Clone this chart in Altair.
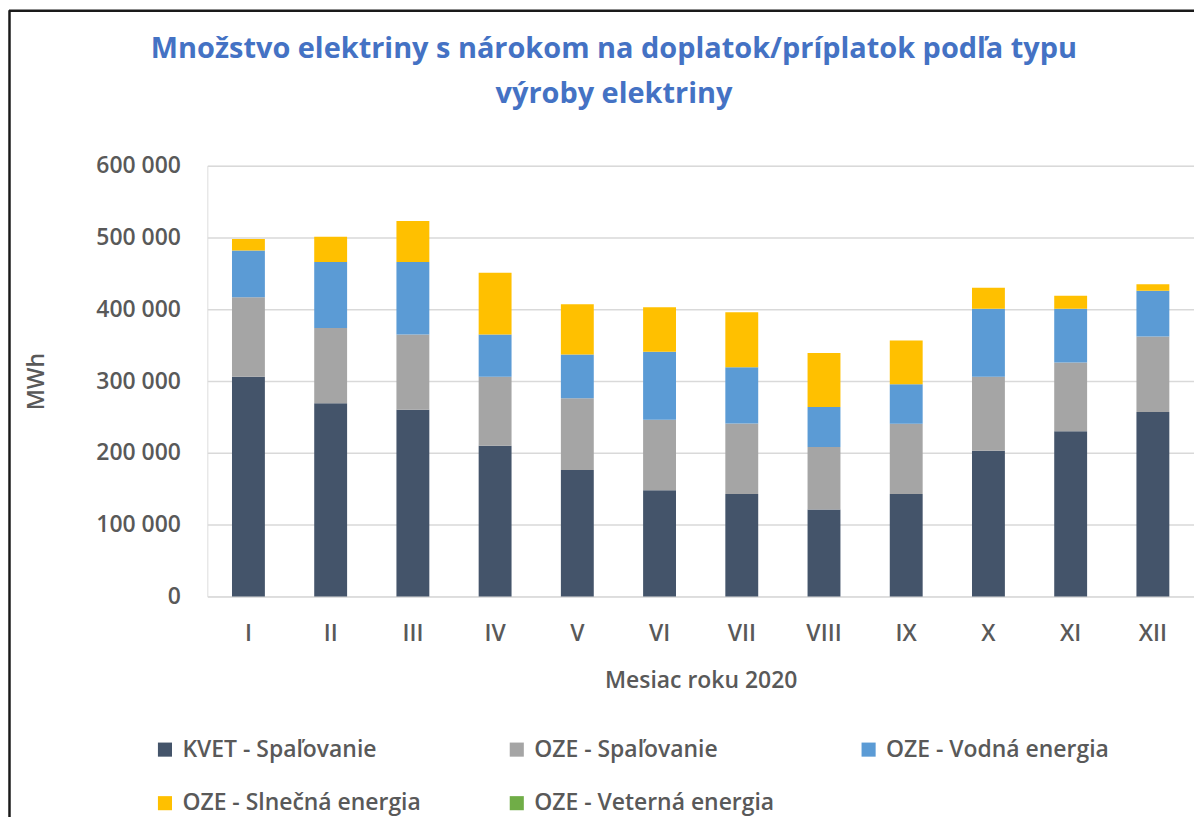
import altair as alt
import pandas as pd

months = ["I", "II", "III", "IV", "V", "VI", "VII", "VIII", "IX", "X", "XI", "XII"]
series = ["KVET - Spaľovanie", "OZE - Spaľovanie", "OZE - Vodná energia",
          "OZE - Slnečná energia", "OZE - Veterná energia"]
colors = ["#44546A", "#A5A5A5", "#5B9BD5", "#FFC000", "#70AD47"]

kvet_spal = [306000, 269000, 260000, 210000, 176000, 148000, 142500, 121000, 142500, 203000, 230000, 257000]
oze_spal = [111000, 105000, 105000, 96000, 100000, 98000, 98300, 87000, 98000, 103000, 96000, 105000]
oze_voda = [65000, 92000, 101000, 59000, 61000, 95000, 78500, 56000, 55000, 95000, 75000, 64000]
oze_slnko = [16000, 35000, 57000, 86000, 70000, 62000, 76500, 75000, 61000, 29000, 18000, 9000]
oze_vietor = [0, 0, 0, 0, 0, 0, 0, 0, 0, 0, 0, 0]

y_ticks = [0, 100000, 200000, 300000, 400000, 500000, 600000]

rows = []
for si, (name, vals) in enumerate(zip(series, [kvet_spal, oze_spal, oze_voda, oze_slnko, oze_vietor])):
    for m, v in zip(months, vals):
        rows.append({"mesiac": m, "typ": name, "poradie": si, "MWh": v})
df = pd.DataFrame(rows)

FONT = "Open Sans"
WEIGHT = 600
GRAY = "#595959"
FS = 23
W, H = 990, 432
PAD_L, PAD_T, PAD_B = 200, 157, 220

bars = alt.Chart(df).mark_bar().encode(
    x=alt.X("mesiac:N", sort=months,
            scale=alt.Scale(paddingInner=0.6, paddingOuter=0.3),
            axis=alt.Axis(title="Mesiac roku 2020", labelAngle=0, domain=False, ticks=False,
                          labelPadding=26, labelFontSize=FS, labelColor=GRAY, labelFont=FONT,
                          labelFontWeight=WEIGHT,
                          titleFontSize=FS, titleColor=GRAY, titleFont=FONT, titleFontWeight=WEIGHT,
                          titlePadding=24)),
    y=alt.Y("MWh:Q", stack="zero",
            scale=alt.Scale(domain=[0, 600000], nice=False),
            axis=alt.Axis(title="MWh", values=y_ticks, domain=False, ticks=False,
                          labelExpr="replace(format(datum.value, ','), /,/g, ' ')",
                          labelPadding=27, labelFontSize=FS, labelColor=GRAY, labelFont=FONT,
                          labelFontWeight=WEIGHT,
                          gridColor="#D9D9D9", gridWidth=1.5,
                          titleFontSize=FS, titleColor=GRAY, titleFont=FONT, titleFontWeight=WEIGHT,
                          titlePadding=48)),
    color=alt.Color("typ:N", sort=series,
                    scale=alt.Scale(domain=series, range=colors),
                    legend=alt.Legend(title=None, orient="none", legendX=-54, legendY=574,
                                      direction="horizontal", columns=3, columnPadding=83,
                                      gridAlign="all",
                                      rowPadding=30, symbolType="square", symbolSize=200,
                                      symbolStrokeWidth=0, labelFontSize=FS, labelColor=GRAY,
                                      labelFont=FONT, labelFontWeight=WEIGHT, labelOffset=6,
                                      labelLimit=400)),
    order=alt.Order("poradie:Q", sort="ascending"),
)

frame_top = alt.Chart().mark_rule(color="#1a1a1a", strokeWidth=2.5).encode(
    x=alt.value(-PAD_L + 1), x2=alt.value(W + 10), y=alt.value(-PAD_T + 1.5))
frame_left = alt.Chart().mark_rule(color="#1a1a1a", strokeWidth=2.5).encode(
    x=alt.value(-PAD_L + 1.5), y=alt.value(-PAD_T + 1), y2=alt.value(H + PAD_B + 20))

chart = alt.layer(bars, frame_top, frame_left).properties(
    width=W, height=H,
    title=alt.TitleParams(
        ["Množstvo elektriny s nárokom na doplatok/príplatok podľa typu", "výroby elektriny"],
        font=FONT, fontSize=29, fontWeight="bold", color="#4472C4", anchor="middle",
        lineHeight=45, offset=-100, dx=-87),
    padding={"left": PAD_L, "top": PAD_T, "right": 0, "bottom": PAD_B},
    autosize=alt.AutoSizeParams(type="none"),
).configure_view(stroke=None).configure(background="white")

chart.save("out.html", embed_options={"renderer": "svg", "actions": False})
